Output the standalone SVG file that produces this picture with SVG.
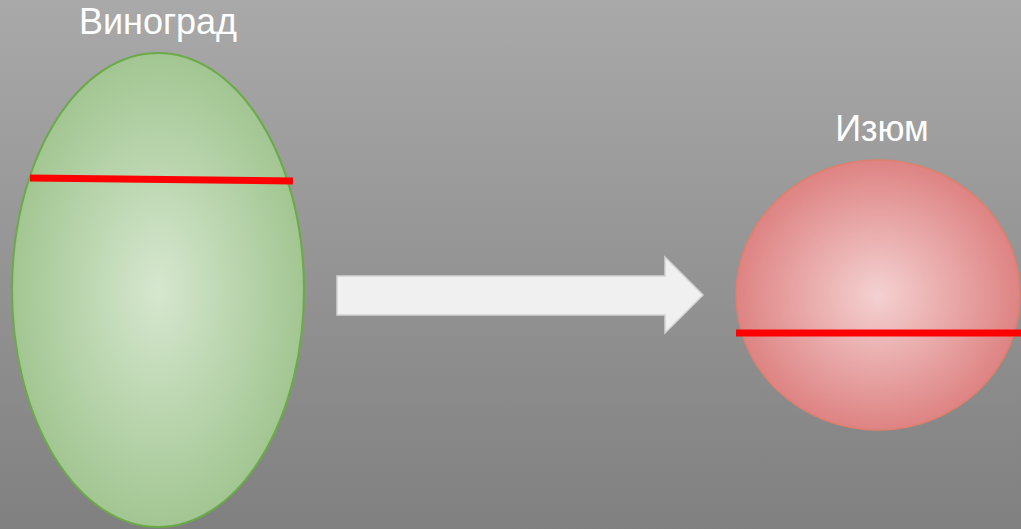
<svg xmlns="http://www.w3.org/2000/svg" width="1021" height="529" viewBox="0 0 1021 529">
  <defs>
    <linearGradient id="bg" x1="0" y1="0" x2="0" y2="1">
      <stop offset="0" stop-color="#a9a9a9"/>
      <stop offset="1" stop-color="#808080"/>
    </linearGradient>
    <radialGradient id="greenFill" cx="0.5" cy="0.5" r="0.5">
      <stop offset="0" stop-color="#d6e7cf"/>
      <stop offset="1" stop-color="#a2c692"/>
    </radialGradient>
    <radialGradient id="pinkFill" cx="0.5" cy="0.5" r="0.5">
      <stop offset="0" stop-color="#f4d1d1"/>
      <stop offset="1" stop-color="#de8383"/>
    </radialGradient>
    <style>
      .label { font-family: "Liberation Sans", Arial, sans-serif; font-size: 36px; fill: #ffffff; text-anchor: middle; }
      .cut { stroke: #ff0000; stroke-width: 7; fill: none; }
    </style>
  </defs>
  <rect x="0" y="0" width="1021" height="529" fill="url(#bg)"/>

  <g id="grape">
    <text class="label" x="158" y="34">Виноград</text>
    <ellipse cx="158" cy="290" rx="146" ry="237" fill="url(#greenFill)" stroke="#6aaa48" stroke-width="2"/>
    <line class="cut" x1="30" y1="178" x2="293" y2="181"/>
  </g>

  <g id="connectors">
    <polygon points="337,276 665,276 665,257 703,295 665,333 665,315 337,315" fill="#f0f0f0" stroke="#d2d2d2" stroke-width="1.5"/>
  </g>

  <g id="raisin">
    <text class="label" x="882" y="141">Изюм</text>
    <ellipse cx="878" cy="295" rx="142" ry="135" fill="url(#pinkFill)" stroke="#e0806c" stroke-width="1.5"/>
    <line class="cut" x1="736" y1="333" x2="1021" y2="333"/>
  </g>
</svg>
